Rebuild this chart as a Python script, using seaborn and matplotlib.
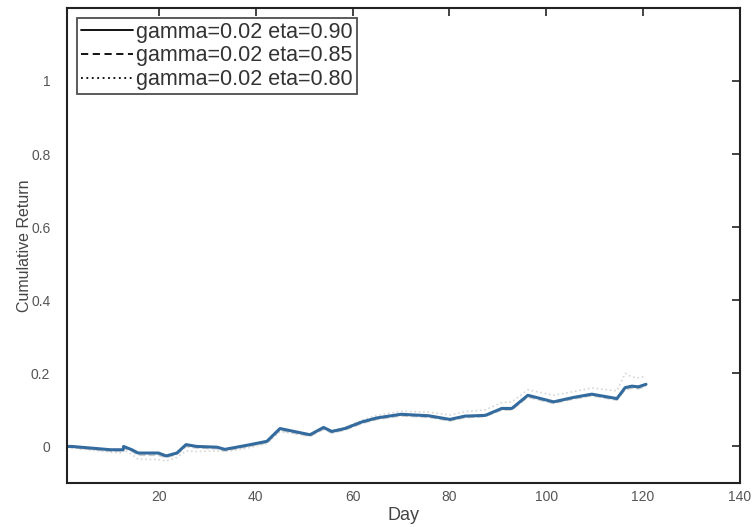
import numpy as np
import pandas as pd
import matplotlib
matplotlib.use('Agg')
import matplotlib.pyplot as plt
import seaborn as sns
from matplotlib.lines import Line2D

# values
day = [1, 2, 10, 12.6, 12.7, 14.4, 15.7, 19.9, 21.5, 23.7, 25.6, 27.8, 32, 33.6,
       38.1, 42.3, 45, 51.2, 54, 55.7, 58.4, 61.9, 65, 70, 75.7, 80.1, 83.2,
       87.4, 90.8, 92.9, 96.2, 101.5, 105.6, 109.4, 114.6, 116.3, 117.7, 119, 120.6]
ret_090 = [0, 0, -0.009, -0.009, 0, -0.009, -0.018, -0.018, -0.026, -0.018, 0.005,
           0, -0.002, -0.008, 0.003, 0.014, 0.049, 0.032, 0.052, 0.041, 0.049,
           0.067, 0.078, 0.088, 0.084, 0.074, 0.083, 0.085, 0.104, 0.104, 0.14,
           0.122, 0.134, 0.143, 0.131, 0.161, 0.165, 0.163, 0.17]
ret_085 = [0, -0.003, -0.013, -0.012, -0.004, -0.013, -0.024, -0.024, -0.03, -0.022,
           0.0, -0.004, -0.006, -0.012, -0.001, 0.01, 0.044, 0.028, 0.047, 0.037,
           0.045, 0.063, 0.074, 0.084, 0.08, 0.07, 0.079, 0.082, 0.1, 0.1, 0.135,
           0.118, 0.13, 0.139, 0.127, 0.156, 0.16, 0.158, 0.165]
ret_080 = [0, -0.004, -0.016, -0.018, -0.01, -0.022, -0.035, -0.036, -0.04, -0.03,
           -0.012, -0.014, -0.012, -0.014, -0.005, 0.008, 0.04, 0.03, 0.05, 0.043,
           0.052, 0.072, 0.085, 0.096, 0.094, 0.086, 0.095, 0.1, 0.12, 0.122, 0.155,
           0.14, 0.15, 0.16, 0.152, 0.2, 0.19, 0.188, 0.192]

labels = ['gamma=0.02 eta=0.90', 'gamma=0.02 eta=0.85', 'gamma=0.02 eta=0.80']
x_ticks = [20, 40, 60, 80, 100, 120, 140]
y_ticks = [0, 0.2, 0.4, 0.6, 0.8, 1]

sns.set_style('white')
plt.rcParams['font.family'] = ['Liberation Sans', 'DejaVu Sans']

fig = plt.figure(figsize=(7.55, 5.27), dpi=100)
ax = fig.add_axes([0.0887, 0.0835, 0.8913, 0.9015])

df = pd.DataFrame({'Day': day, 'r090': ret_090, 'r085': ret_085, 'r080': ret_080})

sns.lineplot(data=df, x='Day', y='r080', ax=ax, color='#d6d6d6', lw=1.2,
             linestyle=':')
sns.lineplot(data=df, x='Day', y='r085', ax=ax, color='#cccccc', lw=1.3,
             linestyle='--')
sns.lineplot(data=df, x='Day', y='r090', ax=ax, color='#336b9e', lw=2.2)

ax.set_xlim(1, 140)
ax.set_ylim(-0.1, 1.2)
ax.set_xticks(x_ticks)
ax.set_yticks(y_ticks)
ax.set_yticklabels(['0', '0.2', '0.4', '0.6', '0.8', '1'])
ax.tick_params(direction='in', length=6, width=1.2, top=True, right=True,
               labelsize=10, labelcolor='#555555', color='#222222')
ax.tick_params(axis='y', pad=12)
ax.tick_params(axis='x', pad=5)
for s in ax.spines.values():
    s.set_color('#222222')
    s.set_linewidth(1.5)

ax.set_xlabel('Day', fontsize=13, color='#444444', labelpad=2)
ax.set_ylabel('Cumulative Return', fontsize=11.5, color='#444444', labelpad=-1)

handles = [Line2D([], [], color='black', lw=1.3, ls='-'),
           Line2D([], [], color='black', lw=1.3, ls=(0, (4, 2.5))),
           Line2D([], [], color='black', lw=1.3, ls=(0, (1, 2)))]
leg = ax.legend(handles, labels, loc='upper left', fontsize=15.5, frameon=True,
                fancybox=False, borderpad=0.2, labelspacing=0.12,
                handlelength=2.4, handletextpad=0.15, borderaxespad=0.45,
                labelcolor='#333333')
leg.get_frame().set_edgecolor('#222222')
leg.get_frame().set_linewidth(1.3)

fig.savefig('out.png', dpi=100)
